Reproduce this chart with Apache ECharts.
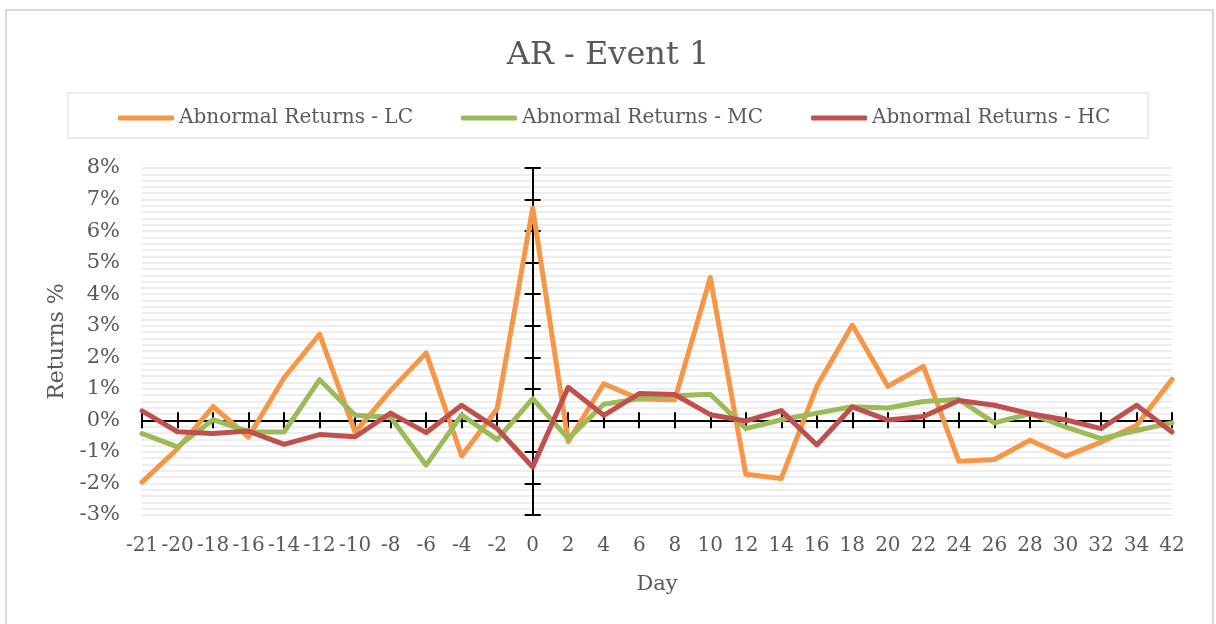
<!DOCTYPE html>
<html>
<head>
<meta charset="utf-8">
<script src="https://cdn.jsdelivr.net/npm/echarts@6/dist/echarts.min.js"></script>
<style>
  html, body { margin: 0; padding: 0; background: #fff; overflow: hidden; }
  .frame {
    position: absolute; left: 5px; top: 9px; width: 1205px; height: 700px;
    border: 2px solid #d9d9d9; border-bottom: none;
  }
  #main { position: absolute; left: 0; top: 0; width: 1216px; height: 624px; }
</style>
</head>
<body>
<div class="frame"></div>
<div id="main"></div>
<script>
// event days (x categories)
const days = ['-21', '-20', '-18', '-16', '-14', '-12', '-10', '-8', '-6', '-4', '-2', '0',
  '2', '4', '6', '8', '10', '12', '14', '16', '18', '20', '22', '24', '26', '28', '30', '32', '34', '42']

// abnormal returns in %
const lc = [-1.96, -0.9, 0.44, -0.53, 1.35, 2.73, -0.37, 0.95, 2.14, -1.13, 0.37, 6.73,
  -0.68, 1.16, 0.68, 0.65, 4.53, -1.71, -1.84, 1.08, 3.02, 1.08, 1.71, -1.3, -1.24, -0.63, -1.14, -0.69, -0.16, 1.3]
const mc = [-0.42, -0.84, 0.02, -0.36, -0.37, 1.29, 0.16, 0.1, -1.42, 0.17, -0.61, 0.69,
  -0.58, 0.51, 0.69, 0.78, 0.83, -0.26, 0.02, 0.23, 0.43, 0.39, 0.6, 0.66, -0.08, 0.21, -0.21, -0.58, -0.32, -0.08]
const hc = [0.3, -0.36, -0.42, -0.34, -0.76, -0.45, -0.52, 0.23, -0.39, 0.48, -0.26, -1.48,
  1.05, 0.16, 0.85, 0.82, 0.18, -0.02, 0.31, -0.78, 0.43, 0.01, 0.12, 0.63, 0.48, 0.21, 0.02, -0.26, 0.48, -0.37]

const seriesNames = ['Abnormal Returns - LC', 'Abnormal Returns - MC', 'Abnormal Returns - HC']
const colors = ['#F79646', '#9BBB59', '#C0504D']

const yMin = -3, yMax = 8, yStep = 1
const zeroIdx = days.indexOf('0')

const font = 'DejaVu Serif'
const txt = '#595959'
const gridGrey = '#eeeeee'

const chart = echarts.init(document.getElementById('main'))

// the black cross axes, one with ticks inside, one outside -> crossing ticks
function crossX(inside) {
  return {
    type: 'category', data: days, boundaryGap: false, position: 'bottom',
    axisLine: { onZero: true, onZeroAxisIndex: 0, lineStyle: { color: '#000', width: 2 } },
    axisTick: { interval: 0, inside: inside, length: 8, lineStyle: { color: '#000', width: 2 } },
    axisLabel: { show: false }, splitLine: { show: false }
  }
}
function crossY(inside) {
  return {
    type: 'value', min: yMin, max: yMax, interval: yStep, position: 'left',
    axisLine: { show: true, onZero: true, onZeroAxisIndex: 1, lineStyle: { color: '#000', width: 2 } },
    axisTick: { show: true, inside: inside, length: 8, lineStyle: { color: '#000', width: 2 } },
    axisLabel: { show: false }, splitLine: { show: false }
  }
}

const option = {
  animation: false,
  color: colors,
  title: {
    text: 'AR - Event 1', left: 'center', top: 35,
    textStyle: { fontFamily: font, fontSize: 32, fontWeight: 'normal', color: txt }
  },
  legend: {
    data: seriesNames, top: 93, left: 68,
    padding: [15, 38, 10, 50], borderColor: '#ececec', borderWidth: 2,
    icon: 'roundRect', itemWidth: 56, itemHeight: 5, itemGap: 48,
    textStyle: { fontFamily: font, fontSize: 20, color: txt }
  },
  grid: { left: 142, right: 44, top: 168, bottom: 109 },
  xAxis: [
    {
      type: 'category', data: days, boundaryGap: false, position: 'bottom',
      axisLine: { show: false, onZero: false }, axisTick: { show: false },
      axisLabel: { interval: 0, margin: 21, fontFamily: font, fontSize: 20, color: txt },
      splitLine: { show: false },
      name: 'Day', nameLocation: 'middle', nameGap: 59,
      nameTextStyle: { fontFamily: font, fontSize: 21, color: txt }
    },
    // hidden value axis so the vertical axis can sit on day 0
    { type: 'value', show: false, position: 'top', min: -zeroIdx, max: days.length - 1 - zeroIdx },
    crossX(true),
    crossX(false)
  ],
  yAxis: [
    {
      type: 'value', min: yMin, max: yMax, interval: yStep, position: 'left',
      axisLine: { show: false, onZero: false }, axisTick: { show: false },
      axisLabel: { formatter: '{value}%', margin: 22, fontFamily: font, fontSize: 21, color: txt },
      splitLine: { show: true, lineStyle: { color: gridGrey, width: 2 } },
      minorTick: { show: false, splitNumber: 5 },
      minorSplitLine: { show: true, lineStyle: { color: gridGrey, width: 2 } },
      name: 'Returns %', nameLocation: 'middle', nameGap: 74,
      nameTextStyle: { fontFamily: font, fontSize: 22, color: txt }
    },
    crossY(true),
    crossY(false)
  ],
  series: [lc, mc, hc].map((d, i) => ({
    name: seriesNames[i], type: 'line', data: d,
    xAxisIndex: 0, yAxisIndex: 0,
    symbol: 'none', showSymbol: false, z: 10 + i,
    lineStyle: { width: 5, color: colors[i], cap: 'round', join: 'round' }
  }))
}

chart.setOption(option)
</script>
</body>
</html>
